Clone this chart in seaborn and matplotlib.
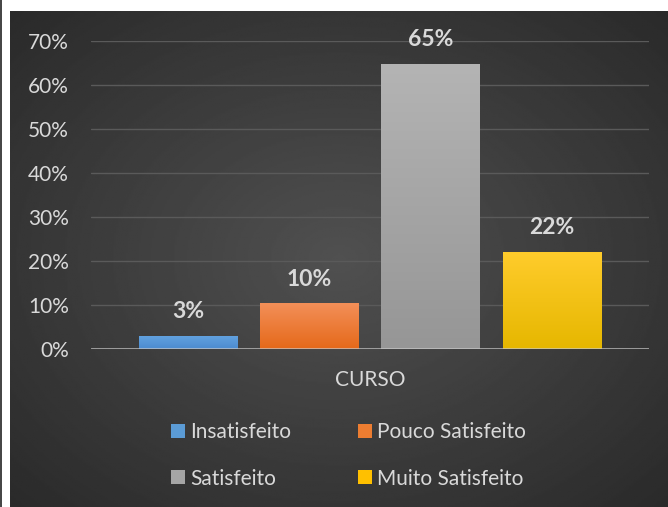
# Satisfaction with the course: bar chart of the four answer groups.

import numpy as np
import pandas as pd
import matplotlib.pyplot as plt
import seaborn as sns
from matplotlib.colors import LinearSegmentedColormap
from matplotlib.lines import Line2D
from matplotlib.ticker import FuncFormatter, MultipleLocator

# Data (percent of answers).
grupo = ["CURSO", "CURSO", "CURSO", "CURSO"]
categorias = ["Insatisfeito", "Pouco Satisfeito", "Satisfeito", "Muito Satisfeito"]
percentuais = [3.0, 10.4, 64.7, 22.1]

# Base colour of each category plus the top / bottom of the gradient fill.
cores = ["#5b9bd5", "#ed7d31", "#a5a5a5", "#ffc000"]
cores_topo = ["#63a3e0", "#f38f58", "#b4b4b4", "#ffcc2c"]
cores_base = ["#4c8bd0", "#e5691a", "#969696", "#e6b700"]

texto = "#d9d9d9"

sns.set_theme(style="white")
plt.rcParams["font.family"] = ["Lato", "DejaVu Sans"]

fig = plt.figure(figsize=(6.68, 5.07), dpi=100)
fig.patch.set_facecolor("white")

# Dark chart area with a soft radial gradient, leaving a white margin top/left.
bg = fig.add_axes([10 / 668, 0, 658 / 668, 496 / 507])
yy, xx = np.mgrid[-1:1:300j, -1:1:400j]
r = np.sqrt(xx ** 2 + yy ** 2) / np.sqrt(2)
shade = 0.315 - 0.15 * r
bg.imshow(shade, cmap="gray", vmin=0, vmax=1, aspect="auto")
bg.axis("off")
fig.add_artist(Line2D([0.5 / 668, 0.5 / 668], [0, 1], color="#222222", lw=1.2,
                      transform=fig.transFigure))

ax = fig.add_axes([91 / 668, 1 - 349.3 / 507, 558 / 668, 308.6 / 507])
ax.patch.set_alpha(0)

df = pd.DataFrame({"grupo": grupo, "categoria": categorias, "valor": percentuais})
sns.barplot(data=df, x="grupo", y="valor", hue="categoria", palette=cores,
            saturation=1, width=0.8, gap=0.19, linewidth=0, edgecolor="none", ax=ax)

# Gradient fill on top of each bar, clipped to the bar shape.
for cont, c_top, c_bot in zip(ax.containers, cores_topo, cores_base):
    for patch in cont:
        x0, y0 = patch.get_x(), patch.get_y()
        w, h = patch.get_width(), patch.get_height()
        cmap = LinearSegmentedColormap.from_list("g", [c_bot, c_top])
        im = ax.imshow(np.linspace(0, 1, 100).reshape(-1, 1), extent=[x0, x0 + w, y0, y0 + h],
                       origin="lower", cmap=cmap, aspect="auto", zorder=patch.get_zorder() + 0.1)
        im.set_clip_path(patch)

for cont in ax.containers:
    ax.bar_label(cont, labels=[f"{v:.0f}%" for v in cont.datavalues], padding=10,
                 color=texto, fontsize=16.5, fontweight="bold")

ax.set_xlim(-0.461, 0.461)
ax.set_ylim(0, 70)
ax.yaxis.set_major_locator(MultipleLocator(10))
ax.yaxis.set_major_formatter(FuncFormatter(lambda v, _: f"{v:.0f}%"))
ax.yaxis.grid(True, color="#5a5a5a", lw=1)
ax.set_axisbelow(True)
ax.axhline(0, color="#c8c8c8", lw=2, alpha=0.75, zorder=5)
for s in ax.spines.values():
    s.set_visible(False)
ax.tick_params(axis="y", length=0, pad=16, labelcolor=texto, labelsize=15)
ax.tick_params(axis="x", length=0, pad=15, labelcolor=texto, labelsize=15)
ax.set_xlabel("")
ax.set_ylabel("")

# Legend below the plot, two per row.
handles, labels = ax.get_legend_handles_labels()
ax.get_legend().remove()
ordem = [0, 2, 1, 3]
leg = fig.legend([handles[i] for i in ordem], [labels[i] for i in ordem], ncol=2,
                 loc="center", bbox_to_anchor=(348.5 / 668, 1 - 455.5 / 507),
                 frameon=False, fontsize=15, handlelength=0.67, handleheight=0.67,
                 handletextpad=0.25, columnspacing=3.2, labelspacing=1.25, borderpad=0)
for h in leg.legend_handles:
    h.set_edgecolor("none")
for t in leg.get_texts():
    t.set_color(texto)

fig.savefig("out.png", dpi=100)
